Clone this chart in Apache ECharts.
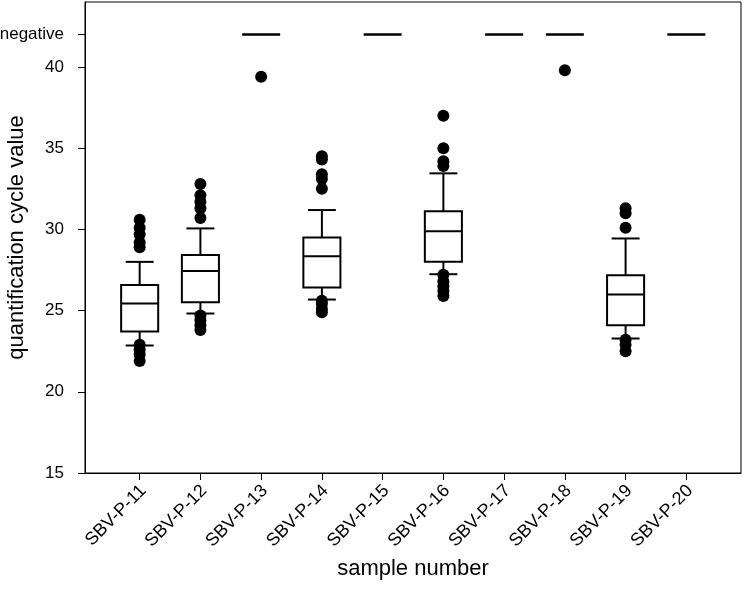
<!DOCTYPE html>
<html>
<head>
<meta charset="utf-8">
<script src="https://cdn.jsdelivr.net/npm/echarts@6.0.0/dist/echarts.min.js"></script>
<style>
  html, body { margin: 0; padding: 0; background: #fff; }
  #chart { width: 743px; height: 604px; }
</style>
</head>
<body>
<div id="chart"></div>
<script>
// ---- data ----
const categories = ['SBV-P-11', 'SBV-P-12', 'SBV-P-13', 'SBV-P-14', 'SBV-P-15',
                    'SBV-P-16', 'SBV-P-17', 'SBV-P-18', 'SBV-P-19', 'SBV-P-20'];
const whiskerLow  = [22.85, 24.82, null, 25.68, null, 27.24, null, null, 23.28, null];
const q1          = [23.71, 25.52, null, 26.42, null, 28.00, null, null, 24.10, null];
const median      = [25.44, 27.43, null, 28.35, null, 29.88, null, null, 25.99, null];
const q3          = [26.58, 28.43, null, 29.50, null, 31.12, null, null, 27.18, null];
const whiskerHigh = [28.00, 30.06, null, 31.19, null, 33.45, null, null, 29.44, null];
const outliers = [
  [30.6, 30.1, 29.7, 29.2, 28.9, 22.9, 22.6, 22.3, 21.9],
  [32.8, 32.1, 31.7, 31.3, 30.7, 24.7, 24.4, 24.1, 23.8],
  [39.4],
  [34.5, 34.3, 33.4, 33.1, 32.5, 25.6, 25.4, 25.1, 24.9],
  [],
  [37.0, 35.0, 34.2, 33.9, 27.2, 26.8, 26.5, 26.2, 25.9],
  [],
  [39.8],
  [31.3, 31.0, 30.1, 23.2, 22.9, 22.5],
  []
];
const isNegative = [false, false, true, false, true, false, true, true, false, true];
const negativeValue = 42;
const yTickValues = [15, 20, 25, 30, 35, 40, 42];
const yTickLabels = { 42: 'negative' };

// ---- build series data ----
const positions = categories.map((c, i) => i + 1);
const labelPositions = positions.map(p => p + 0.06);
const boxData = [];
categories.forEach((c, i) => {
  if (median[i] !== null) {
    boxData.push([positions[i], whiskerLow[i], q1[i], median[i], q3[i], whiskerHigh[i]]);
  }
});
const outlierData = [];
outliers.forEach((arr, i) => arr.forEach(v => outlierData.push([positions[i], v])));
const negativeData = [];
isNegative.forEach((neg, i) => { if (neg) negativeData.push([positions[i], negativeValue]); });

const BOX_W = 0.61;
const CAP_W = 0.46;
const FONT = "'Liberation Sans', Arial, sans-serif";

function renderBox(params, api) {
  const x = api.value(0);
  const pLow = api.coord([x, api.value(1)]);
  const pQ1 = api.coord([x, api.value(2)]);
  const pMed = api.coord([x, api.value(3)]);
  const pQ3 = api.coord([x, api.value(4)]);
  const pHigh = api.coord([x, api.value(5)]);
  const bw = api.size([BOX_W, 0])[0];
  const cw = api.size([CAP_W, 0])[0];
  const cx = pLow[0];
  const st = { stroke: '#000', lineWidth: 2, fill: null };
  return {
    type: 'group',
    children: [
      { type: 'line', shape: { x1: cx, y1: pLow[1], x2: cx, y2: pQ1[1] }, style: st },
      { type: 'line', shape: { x1: cx, y1: pQ3[1], x2: cx, y2: pHigh[1] }, style: st },
      { type: 'line', shape: { x1: cx - cw / 2, y1: pLow[1], x2: cx + cw / 2, y2: pLow[1] }, style: st },
      { type: 'line', shape: { x1: cx - cw / 2, y1: pHigh[1], x2: cx + cw / 2, y2: pHigh[1] }, style: st },
      { type: 'rect', shape: { x: cx - bw / 2, y: pQ3[1], width: bw, height: pQ1[1] - pQ3[1] },
        style: { stroke: '#000', lineWidth: 2, fill: '#fff' } },
      { type: 'line', shape: { x1: cx - bw / 2, y1: pMed[1], x2: cx + bw / 2, y2: pMed[1] }, style: st }
    ]
  };
}

const chart = echarts.init(document.getElementById('chart'), null, { renderer: 'canvas' });
chart.setOption({
  animation: false,
  backgroundColor: '#fff',
  textStyle: { fontFamily: FONT },
  grid: {
    left: 85, right: 2, top: 2, bottom: 131,
    containLabel: false,
    outerBoundsMode: 'none',
    show: true, borderColor: '#000', borderWidth: 1, backgroundColor: 'transparent'
  },
  xAxis: {
    type: 'value',
    min: 0.1, max: 10.9,
    name: 'sample number',
    nameLocation: 'middle',
    nameGap: 85,
    nameMoveOverlap: false,
    nameTextStyle: { fontSize: 22, color: '#000', fontFamily: FONT },
    axisLine: { show: true, lineStyle: { color: '#000', width: 1 } },
    axisTick: { show: true, length: 7, customValues: positions, lineStyle: { color: '#000' } },
    axisLabel: {
      customValues: labelPositions,
      rotate: 45,
      margin: 15,
      fontSize: 18,
      color: '#000',
      fontFamily: FONT,
      formatter: v => categories[Math.round(v) - 1] || ''
    },
    splitLine: { show: false }
  },
  yAxis: {
    type: 'value',
    min: 15, max: 44,
    name: 'quantification cycle value',
    nameLocation: 'middle',
    nameGap: 57,
    nameMoveOverlap: false,
    nameTextStyle: { fontSize: 22, color: '#000', fontFamily: FONT },
    axisLine: { show: true, lineStyle: { color: '#000', width: 1 } },
    axisTick: { show: true, length: 7, customValues: yTickValues, lineStyle: { color: '#000' } },
    axisLabel: {
      customValues: yTickValues,
      margin: 21,
      fontSize: 17,
      color: '#000',
      fontFamily: FONT,
      formatter: v => (yTickLabels[v] !== undefined ? yTickLabels[v] : String(v))
    },
    splitLine: { show: false }
  },
  series: [
    {
      type: 'custom',
      renderItem: renderBox,
      data: boxData,
      encode: { x: 0, y: [1, 2, 3, 4, 5] },
      z: 2
    },
    {
      type: 'scatter',
      data: outlierData,
      symbol: 'circle',
      symbolSize: 12,
      itemStyle: { color: '#000', opacity: 1 },
      z: 3
    },
    {
      type: 'scatter',
      data: negativeData,
      symbol: 'rect',
      symbolSize: [38, 2.5],
      itemStyle: { color: '#000', opacity: 1 },
      z: 3
    }
  ]
});
</script>
</body>
</html>
